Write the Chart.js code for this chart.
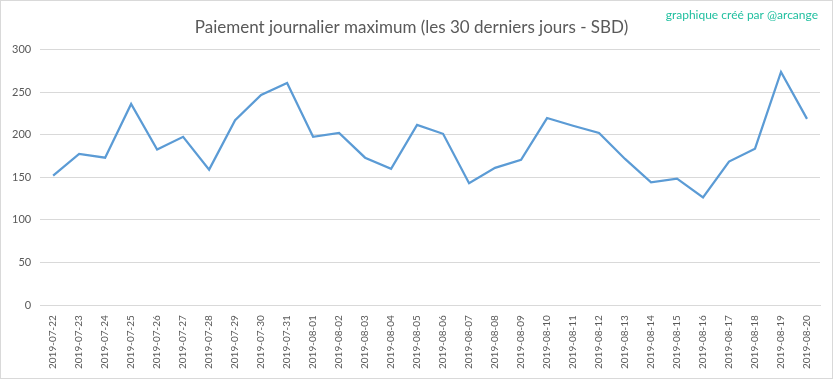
<!DOCTYPE html>
<html>
<head>
<meta charset="utf-8">
<script src="https://cdn.jsdelivr.net/npm/chart.js@4"></script>
<style>
  body { margin: 0; background: #fff; }
  #wrap { width: 833px; height: 379px; box-sizing: border-box; border: 1px solid #d9d9d9; }
</style>
</head>
<body>
<div id="wrap"><canvas id="myChart" width="831" height="377"></canvas></div>
<script>
const dates = [
  '2019-07-22', '2019-07-23', '2019-07-24', '2019-07-25', '2019-07-26', '2019-07-27',
  '2019-07-28', '2019-07-29', '2019-07-30', '2019-07-31', '2019-08-01', '2019-08-02',
  '2019-08-03', '2019-08-04', '2019-08-05', '2019-08-06', '2019-08-07', '2019-08-08',
  '2019-08-09', '2019-08-10', '2019-08-11', '2019-08-12', '2019-08-13', '2019-08-14',
  '2019-08-15', '2019-08-16', '2019-08-17', '2019-08-18', '2019-08-19', '2019-08-20'
];
const maxPayout = [
  152, 177.5, 173, 236, 182.5, 197.5, 159, 217, 246.5, 260.5,
  197.5, 202, 173, 160, 211.5, 201, 143, 161, 170.5, 219.5,
  210.5, 202, 171.5, 144, 148.5, 126.5, 168.5, 183.5, 273.5, 218.5
];
const yTicks = [0, 50, 100, 150, 200, 250, 300];

const textGrey = '#595959';
const fontFamily = 'Lato, "Open Sans", sans-serif';

// petite signature en haut à droite
const signature = {
  id: 'signature',
  afterDraw(chart) {
    const c = chart.ctx;
    c.save();
    c.font = '12px ' + fontFamily;
    c.fillStyle = '#1fbf9f';
    c.textAlign = 'right';
    c.textBaseline = 'middle';
    c.fillText('graphique créé par @arcange', 817, 14);
    c.restore();
  }
};

const ctx = document.getElementById('myChart');

new Chart(ctx, {
  type: 'line',
  data: {
    labels: dates,
    datasets: [{
      label: 'Paiement max',
      data: maxPayout,
      borderColor: '#5b9bd5',
      borderWidth: 2.25,
      pointRadius: 0,
      tension: 0,
      fill: false
    }]
  },
  options: {
    responsive: false,
    animation: false,
    layout: {
      padding: { left: 2, right: 12, top: 0, bottom: 7 }
    },
    plugins: {
      legend: { display: false },
      tooltip: { enabled: false },
      title: {
        display: true,
        text: 'Paiement journalier maximum (les 30 derniers jours - SBD)',
        color: textGrey,
        font: { family: fontFamily, size: 17, weight: 'normal' },
        padding: { top: 16, bottom: 12 }
      }
    },
    scales: {
      x: {
        offset: true,
        grid: { display: false },
        border: { display: true, color: '#d9d9d9' },
        ticks: {
          color: textGrey,
          font: { family: fontFamily, size: 10 },
          minRotation: 90,
          maxRotation: 90,
          autoSkip: false,
          padding: 2
        }
      },
      y: {
        min: 0,
        max: 300,
        afterBuildTicks(axis) {
          axis.ticks = yTicks.map(v => ({ value: v }));
        },
        grid: { color: '#d9d9d9', drawTicks: false },
        border: { display: false },
        ticks: {
          color: textGrey,
          font: { family: fontFamily, size: 11 },
          padding: 9
        }
      }
    }
  },
  plugins: [signature]
});
</script>
</body>
</html>
